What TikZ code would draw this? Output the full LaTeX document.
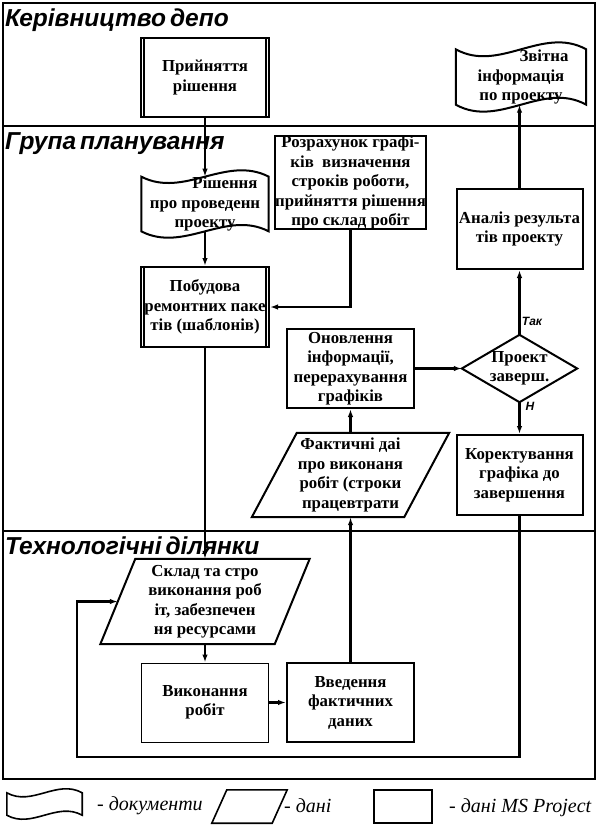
\documentclass[tikz,border=0pt]{standalone}
\usepackage{fontspec}
\setmainfont{Liberation Serif}
\newfontfamily\titlefont{Liberation Sans}
\usetikzlibrary{arrows.meta,calc}
\newcommand\tapeshape[3]{%
  \draw[line width=#3] (#1.north west)
    .. controls ($(#1.north west)!1/3!(#1.north east)+(0,#2)$) and ($(#1.north west)!2/3!(#1.north east)+(0,-#2)$) .. (#1.north east)
    -- (#1.south east)
    .. controls ($(#1.south west)!2/3!(#1.south east)+(0,-#2)$) and ($(#1.south west)!1/3!(#1.south east)+(0,#2)$) .. (#1.south west)
    -- cycle;}
\newcommand\parashape[3]{%
  \draw[line width=#3] ($(#1.north west)+(#2,0)$) -- ($(#1.north east)+(#2,0)$)
    -- ($(#1.south east)+(-#2,0)$) -- ($(#1.south west)+(-#2,0)$) -- cycle;}
\newcommand\predef[1]{%
  \draw[line width=1.3pt] ($(#1.north west)+(4,0)$) -- ($(#1.south west)+(4,0)$);
  \draw[line width=1.3pt] ($(#1.north east)+(-4,0)$) -- ($(#1.south east)+(-4,0)$);}
\begin{document}
\begin{tikzpicture}[x=1pt,y=-1pt,
  txt/.style={font=\bfseries\fontsize{16.8}{19.5}\selectfont, align=center, inner sep=0pt},
  box/.style={txt, draw, line width=2pt},
  thinbox/.style={txt, draw, line width=1pt},
  ghost/.style={txt},
  frame/.style={line width=2pt},
  conn/.style={line width=2.1pt, -{Latex[length=8pt,width=5.5pt]}},
  lane/.style={font=\titlefont\bfseries\itshape\fontsize{24.5}{28}\selectfont, anchor=base west, inner sep=0pt},
  yesno/.style={font=\titlefont\bfseries\itshape\fontsize{12}{14}\selectfont, inner sep=0pt},
  legtext/.style={font=\itshape\fontsize{20}{24}\selectfont, anchor=west, inner sep=0pt}
]
\useasboundingbox (0,0) rectangle (598,836);
% frames
\draw[frame] (3,3) rectangle (595,779);
\draw[frame] (3,126) -- (595,126);
\draw[frame] (3,531) -- (595,531);
\node[lane] (t1) at (5,26) {Керівництво\hspace{4pt}депо};
\node[lane] (t2) at (5,149) {Група\hspace{4pt}планування};
\node[lane] (t3) at (5,554) {Технологічні\hspace{4pt}ділянки};

% nodes
\node[box, minimum width=128, minimum height=79] (prin) at (205,77.5) {Прийняття\\рішення};
\predef{prin}
\node[ghost, minimum width=130, minimum height=55] (zvit) at (521,77) {\hspace*{46pt}Звітна\\інформація\\по проекту};
\tapeshape{zvit}{24}{2pt}
\node[ghost, minimum width=127, minimum height=54] (rish) at (205,204) {\hspace*{40pt}Рішення\\про проведенн\\проекту};
\tapeshape{rish}{22}{2pt}
\node[box, minimum width=151, minimum height=89] (rozr) at (350.5,182.5) {Розрахунок графі-\\ків\ \ визначення\\строків роботи,\\прийняття рішення\\про склад робіт};
\node[box, minimum width=128, minimum height=80] (pob) at (205,307) {Побудова\\ремонтних паке\\тів (шаблонів)};
\predef{pob}
\node[box, minimum width=126, minimum height=80] (anal) at (519.5,229) {Аналіз результа\\тів проекту};
\node[box, minimum width=127, minimum height=79] (onov) at (350.5,368.5) {Оновлення\\інформації,\\перерахування\\графіків};
\node[ghost, minimum width=115, minimum height=67] (dia) at (519.5,368.5) {Проект\\заверш.};
\draw[line width=2pt] (dia.west) -- (dia.north) -- (dia.east) -- (dia.south) -- cycle;
\node[box, minimum width=126, minimum height=80] (kor) at (519.5,475) {Коректування\\графіка до\\завершення};
\node[ghost, minimum width=152, minimum height=84] (fakt) at (350.5,475) {Фактичні даі\\про виконаня\\робіт (строки\\працевтрати};
\parashape{fakt}{22.5}{2pt}
\node[ghost, minimum width=174, minimum height=85] (sklad) at (205,601.5) {Склад та стро\\виконання роб\\іт, забезпечен\\ня ресурсами};
\parashape{sklad}{17.5}{2pt}
\node[thinbox, minimum width=127, minimum height=79] (vyk) at (205,702.5) {Виконання\\робіт};
\node[box, minimum width=127, minimum height=79] (vved) at (350.5,702.5) {Введення\\фактичних\\даних};

% connectors
\draw[conn] (prin.south) -- (rish.north);
\draw[conn] (rish.south) -- (pob.north);
\draw[conn] (rozr.south) |- (pob.east);
\draw[conn] (pob.south) -- (sklad.north);
\draw[conn] (sklad.south) -- (vyk.north);
\draw[conn] (vyk.east) -- (vved.west);
\draw[conn] (vved.north) -- (fakt.south);
\draw[conn] (fakt.north) -- (onov.south);
\draw[conn] (onov.east) -- (dia.west);
\draw[conn] (dia.north) -- (anal.south);
\draw[conn] (anal.north) -- (anal.north |- zvit.south);
\draw[conn] (dia.south) -- (kor.north);
\coordinate (loopc) at (77,757);
\draw[conn] (kor.south) |- (loopc) |- (sklad.west);
\node[yesno] (yes) at (532,321) {Так};
\node[yesno] (no) at (530,406) {Н};

% legend
\node[minimum width=75, minimum height=22, inner sep=0pt] (lgdoc) at (44.5,804) {};
\tapeshape{lgdoc}{14}{1.6pt}
\node[legtext] (lgdoct) at (97,806) {- документи};
\node[minimum width=60, minimum height=33, inner sep=0pt] (lgdat) at (249.5,806.5) {};
\parashape{lgdat}{7.5}{1.6pt}
\node[legtext] (lgdatt) at (284,806) {- дані};
\node[draw, line width=1.2pt, minimum width=58, minimum height=33, inner sep=0pt] (lgms) at (403,806.5) {};
\node[legtext] (lgmst) at (449,808) {- дані MS Project};
\end{tikzpicture}
\end{document}
